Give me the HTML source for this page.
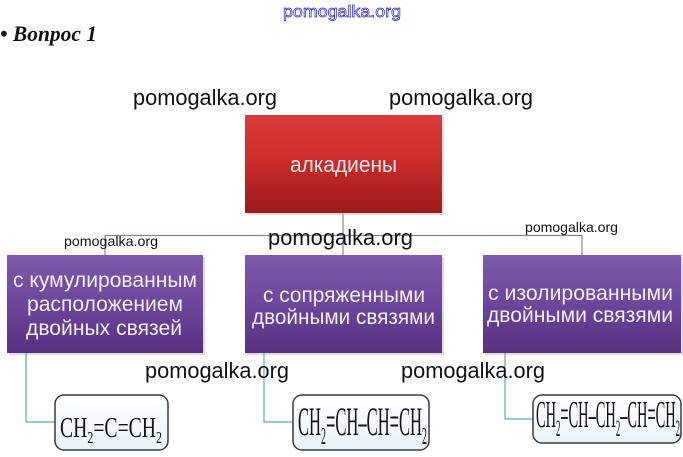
<!DOCTYPE html>
<html>
<head>
<meta charset="utf-8">
<style>
  html,body{margin:0;padding:0;background:#fff;}
  svg{display:block;}
</style>
</head>
<body>
<svg width="683" height="457" viewBox="0 0 683 457" xmlns="http://www.w3.org/2000/svg">
  <defs>
    <linearGradient id="red" x1="0" y1="0" x2="0" y2="1">
      <stop offset="0" stop-color="#d83b3b"/>
      <stop offset="0.45" stop-color="#cc2c2c"/>
      <stop offset="1" stop-color="#9e1919"/>
    </linearGradient>
    <linearGradient id="pur" x1="0" y1="0" x2="0" y2="1">
      <stop offset="0" stop-color="#7d5aaa"/>
      <stop offset="0.5" stop-color="#6c469b"/>
      <stop offset="1" stop-color="#57307f"/>
    </linearGradient>
    <linearGradient id="chem" x1="0" y1="0" x2="0" y2="1">
      <stop offset="0" stop-color="#ffffff"/>
      <stop offset="1" stop-color="#eaf3f8"/>
    </linearGradient>
  </defs>

  <!-- top watermark (outlined) -->
  <text x="283" y="17" font-family="Liberation Sans, sans-serif" font-size="17" textLength="118" lengthAdjust="spacingAndGlyphs" fill="#ffffff" stroke="#2626c8" stroke-width="0.7">pomogalka.org</text>

  <!-- title -->
  <text x="0" y="41" font-family="Liberation Serif, serif" font-size="22" font-weight="bold" font-style="italic" fill="#111" textLength="97" lengthAdjust="spacingAndGlyphs">• Вопрос 1</text>

  <!-- connectors top -->
  <g stroke="#8a80b8" stroke-width="1.2" fill="none">
    <line x1="343" y1="213" x2="343" y2="255"/>
    <line x1="105" y1="235.5" x2="582" y2="235.5"/>
    <line x1="105" y1="235" x2="105" y2="255"/>
    <line x1="582" y1="235" x2="582" y2="255"/>
  </g>

  <!-- red box -->
  <rect x="247" y="117" width="197" height="98" fill="#bbb" opacity="0.5"/>
  <rect x="245" y="115" width="197" height="98" fill="url(#red)"/>
  <text x="290" y="172" font-family="Liberation Sans, sans-serif" font-size="22" fill="#f6e8e8" textLength="107" lengthAdjust="spacingAndGlyphs">алкадиены</text>

  <!-- purple boxes -->
  <g>
    <rect x="9" y="257" width="196" height="98" fill="#bbb" opacity="0.5"/>
    <rect x="7" y="255" width="196" height="98" fill="url(#pur)"/>
    <rect x="247" y="257" width="197" height="98" fill="#bbb" opacity="0.5"/>
    <rect x="245" y="255" width="197" height="98" fill="url(#pur)"/>
    <rect x="485" y="257" width="198" height="98" fill="#bbb" opacity="0.5"/>
    <rect x="483" y="255" width="198" height="98" fill="url(#pur)"/>
  </g>
  <g font-family="Liberation Sans, sans-serif" font-size="21" fill="#f3eef8">
    <text x="13" y="287" textLength="184" lengthAdjust="spacingAndGlyphs">с кумулированным</text>
    <text x="27" y="311" textLength="156" lengthAdjust="spacingAndGlyphs">расположением</text>
    <text x="26" y="335" textLength="156" lengthAdjust="spacingAndGlyphs">двойных связей</text>

    <text x="263" y="302" textLength="162" lengthAdjust="spacingAndGlyphs">с сопряженными</text>
    <text x="252" y="324" textLength="183" lengthAdjust="spacingAndGlyphs">двойными связями</text>

    <text x="488" y="300" textLength="185" lengthAdjust="spacingAndGlyphs">с изолированными</text>
    <text x="487" y="322" textLength="186" lengthAdjust="spacingAndGlyphs">двойными связями</text>
  </g>

  <!-- connectors bottom -->
  <g stroke="#5aa8c6" stroke-width="1.2" fill="none">
    <polyline points="26,353 26,422 55,422"/>
    <polyline points="264,353 264,422 293,422"/>
    <polyline points="505,353 505,419 533,419"/>
  </g>

  <!-- chem boxes -->
  <g stroke="#3a3a3a" stroke-width="1.5" fill="url(#chem)">
    <rect x="55" y="395" width="113" height="55" rx="9"/>
    <rect x="293" y="395" width="136" height="55" rx="9"/>
    <rect x="533" y="395" width="148" height="48" rx="9"/>
  </g>
  <g font-family="Liberation Serif, serif" fill="#111">
    <text x="60" y="437" font-size="28" textLength="102" lengthAdjust="spacingAndGlyphs">CH<tspan font-size="17" dy="6">2</tspan><tspan dy="-6">=C=CH</tspan><tspan font-size="17" dy="6">2</tspan></text>
    <text x="298" y="435" font-size="40" textLength="129" lengthAdjust="spacingAndGlyphs">CH<tspan font-size="24" dy="9">2</tspan><tspan dy="-9">=CH–CH=CH</tspan><tspan font-size="24" dy="9">2</tspan></text>
    <text x="536" y="427" font-size="38" textLength="144" lengthAdjust="spacingAndGlyphs">CH<tspan font-size="23" dy="9">2</tspan><tspan dy="-9">=CH–CH</tspan><tspan font-size="23" dy="9">2</tspan><tspan dy="-9">–CH=CH</tspan><tspan font-size="23" dy="9">2</tspan></text>
  </g>

  <!-- watermarks -->
  <g font-family="Liberation Sans, sans-serif" fill="#111">
    <text x="133" y="105" font-size="22" textLength="144" lengthAdjust="spacingAndGlyphs">pomogalka.org</text>
    <text x="389" y="105" font-size="22" textLength="144" lengthAdjust="spacingAndGlyphs">pomogalka.org</text>
    <text x="268" y="245" font-size="22" textLength="145" lengthAdjust="spacingAndGlyphs">pomogalka.org</text>
    <text x="64" y="246" font-size="14" textLength="94" lengthAdjust="spacingAndGlyphs">pomogalka.org</text>
    <text x="525" y="232" font-size="14" textLength="93" lengthAdjust="spacingAndGlyphs">pomogalka.org</text>
    <text x="145" y="378" font-size="22" textLength="144" lengthAdjust="spacingAndGlyphs">pomogalka.org</text>
    <text x="401" y="378" font-size="22" textLength="144" lengthAdjust="spacingAndGlyphs">pomogalka.org</text>
  </g>
</svg>
</body>
</html>
